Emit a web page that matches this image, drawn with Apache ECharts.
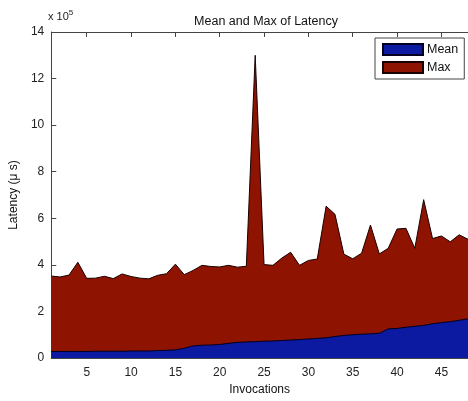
<!DOCTYPE html>
<html>
<head>
<meta charset="utf-8">
<script src="https://cdn.jsdelivr.net/npm/echarts@6/dist/echarts.min.js"></script>
<style>
html,body{margin:0;padding:0;background:#fff;}
#chart{width:468px;height:401px;}
</style>
</head>
<body>
<div id="chart"></div>
<script>
// Data (latency in microseconds)
const invocations = [1,2,3,4,5,6,7,8,9,10,11,12,13,14,15,16,17,18,19,20,21,22,23,24,25,26,27,28,29,30,31,32,33,34,35,36,37,38,39,40,41,42,43,44,45,46,47,48];
const maxLatency = [352000,348000,356000,411000,342000,343000,351000,341000,361000,350000,343000,340000,355000,362000,403000,358000,376000,398000,393000,391000,398000,390000,394000,1300000,401000,398000,429000,454000,398000,419000,425000,652000,617000,446000,426000,450000,571000,447000,471000,554000,557000,471000,680000,513000,524000,499000,529000,510000];
const meanLatency = [28000,28000,28000,28000,28000,29000,29000,29000,29000,30000,30000,30000,32000,33000,35000,42000,52000,55000,56000,58000,63000,67000,69000,70000,72000,73000,75000,77000,79000,82000,84000,87000,92000,97000,100000,102000,104000,106000,125000,127000,132000,136000,140000,147000,152000,156000,162000,168000];
const xTickValues = [5,10,15,20,25,30,35,40,45];
const seriesNames = ['Mean','Max'];

const FONT = 'Liberation Sans, Arial, sans-serif';
const chart = echarts.init(document.getElementById('chart'));

const pairs = (ys) => invocations.map((x, i) => [x, ys[i]]);

chart.setOption({
  animation: false,
  backgroundColor: '#fff',
  textStyle: { fontFamily: FONT },
  title: {
    text: 'Mean and Max of Latency',
    left: 261, top: 10, textAlign: 'center',
    textStyle: { fontFamily: FONT, fontSize: 12.5, fontWeight: 'normal', color: '#111' }
  },
  grid: { left: 49, top: 32, right: -5, bottom: 35, containLabel: false },
  legend: {
    orient: 'vertical',
    left: 375, top: 38,
    data: seriesNames,
    itemWidth: 40, itemHeight: 11, itemGap: 5,
    padding: [5, 6, 5, 7],
    borderColor: '#444', borderWidth: 1,
    backgroundColor: '#fff',
    icon: 'rect',
    textStyle: { fontFamily: FONT, fontSize: 12.5, color: '#111', padding: [0, 0, 0, -1] }
  },
  graphic: [{
    type: 'text', left: 48, top: 9,
    style: {
      text: 'x 10{sup|5}',
      font: '11px ' + FONT, fill: '#222',
      rich: { sup: { fontSize: 8, verticalAlign: 'top', padding: [0, 0, 8, 0], fontFamily: FONT } }
    }
  }],
  xAxis: [{
    type: 'value', min: 1, max: 48, position: 'bottom',
    name: 'Invocations', nameLocation: 'middle', nameGap: 26,
    nameTextStyle: { fontFamily: FONT, fontSize: 12, color: '#111' },
    axisLine: { show: true, lineStyle: { color: '#444', width: 1 } },
    axisTick: { show: true, inside: true, length: 5, customValues: xTickValues, lineStyle: { color: '#444' } },
    axisLabel: { customValues: xTickValues, fontFamily: FONT, fontSize: 12, color: '#222', margin: 9 },
    splitLine: { show: false }
  }, {
    type: 'value', min: 1, max: 48, position: 'top',
    axisLine: { show: true, lineStyle: { color: '#444', width: 1 } },
    axisTick: { show: true, inside: true, length: 5, customValues: xTickValues, lineStyle: { color: '#444' } },
    axisLabel: { show: false },
    splitLine: { show: false }
  }],
  yAxis: {
    type: 'value', min: 0, max: 1400000, interval: 200000,
    name: 'Latency (μ s)', nameLocation: 'middle', nameGap: 22, nameRotate: 90,
    nameTextStyle: { fontFamily: FONT, fontSize: 12, color: '#111' },
    axisLine: { show: true, lineStyle: { color: '#444', width: 1 } },
    axisTick: { show: true, inside: true, length: 5, lineStyle: { color: '#444' } },
    axisLabel: { fontFamily: FONT, fontSize: 12, color: '#222', margin: 7, formatter: v => String(v / 100000) },
    splitLine: { show: false }
  },
  series: [{
    name: 'Max', type: 'line', data: pairs(maxLatency),
    symbol: 'none', z: 2,
    lineStyle: { color: '#1a0000', width: 1 },
    itemStyle: { color: '#8e1300', borderColor: '#1a0000', borderWidth: 1 },
    areaStyle: { color: '#8e1300', opacity: 1 }
  }, {
    name: 'Mean', type: 'line', data: pairs(meanLatency),
    symbol: 'none', z: 3,
    lineStyle: { color: '#000022', width: 1 },
    itemStyle: { color: '#0b1aa0', borderColor: '#000022', borderWidth: 1 },
    areaStyle: { color: '#0b1aa0', opacity: 1 }
  }]
});
</script>
</body>
</html>
